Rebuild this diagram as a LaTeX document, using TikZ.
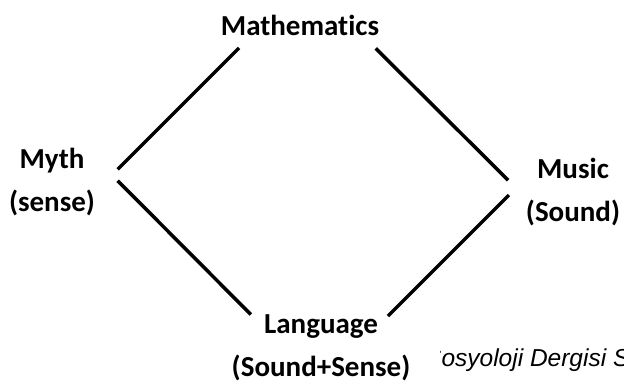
\documentclass[tikz,border=0pt]{standalone}
\usepackage{fontspec}
\setmainfont{Carlito}[Ligatures=NoCommon]
\newfontfamily\wmfont{Liberation Sans}
\usetikzlibrary{positioning}

\begin{document}
\begin{tikzpicture}[x=1pt, y=-1pt,
    label/.style={align=center, inner sep=0pt, font=\fontsize{29}{43}\selectfont\bfseries},
    edge/.style={line width=3.5pt},
    ]
    \useasboundingbox (0,0) rectangle (624,381);

    % Corners of the diamond
    \coordinate (top) at (307,-20);
    \coordinate (left) at (112,175);
    \coordinate (right) at (516,188);
    \coordinate (bottom) at (320,384);

    % Labels
    \node [label] (math) at (300,25) {Mathematics};
    \node [label] (myth) at (52,182) {Myth\\(sense)};
    \node [label] (music) at (573,192) {Music\\(Sound)};
    \node [label] (lang) at (321,348) {Language\\(Sound+Sense)};

    % Edges
    \draw [edge, shorten <=96pt, shorten >=8pt] (top) -- (left);
    \draw [edge, shorten <=97pt, shorten >=11pt] (top) -- (right);
    \draw [edge, shorten <=8pt, shorten >=98pt] (left) -- (bottom);
    \draw [edge, shorten <=10pt, shorten >=96pt] (right) -- (bottom);

    % Source note, cut at both sides
    \begin{scope}
    \clip (440,330) rectangle (624,381);
    \node [anchor=base west, inner sep=0pt, font=\wmfont\itshape\fontsize{24.5}{28}\selectfont] (src) at (425,366) {Sosyoloji Dergisi S};
    \end{scope}

\end{tikzpicture}
\end{document}
